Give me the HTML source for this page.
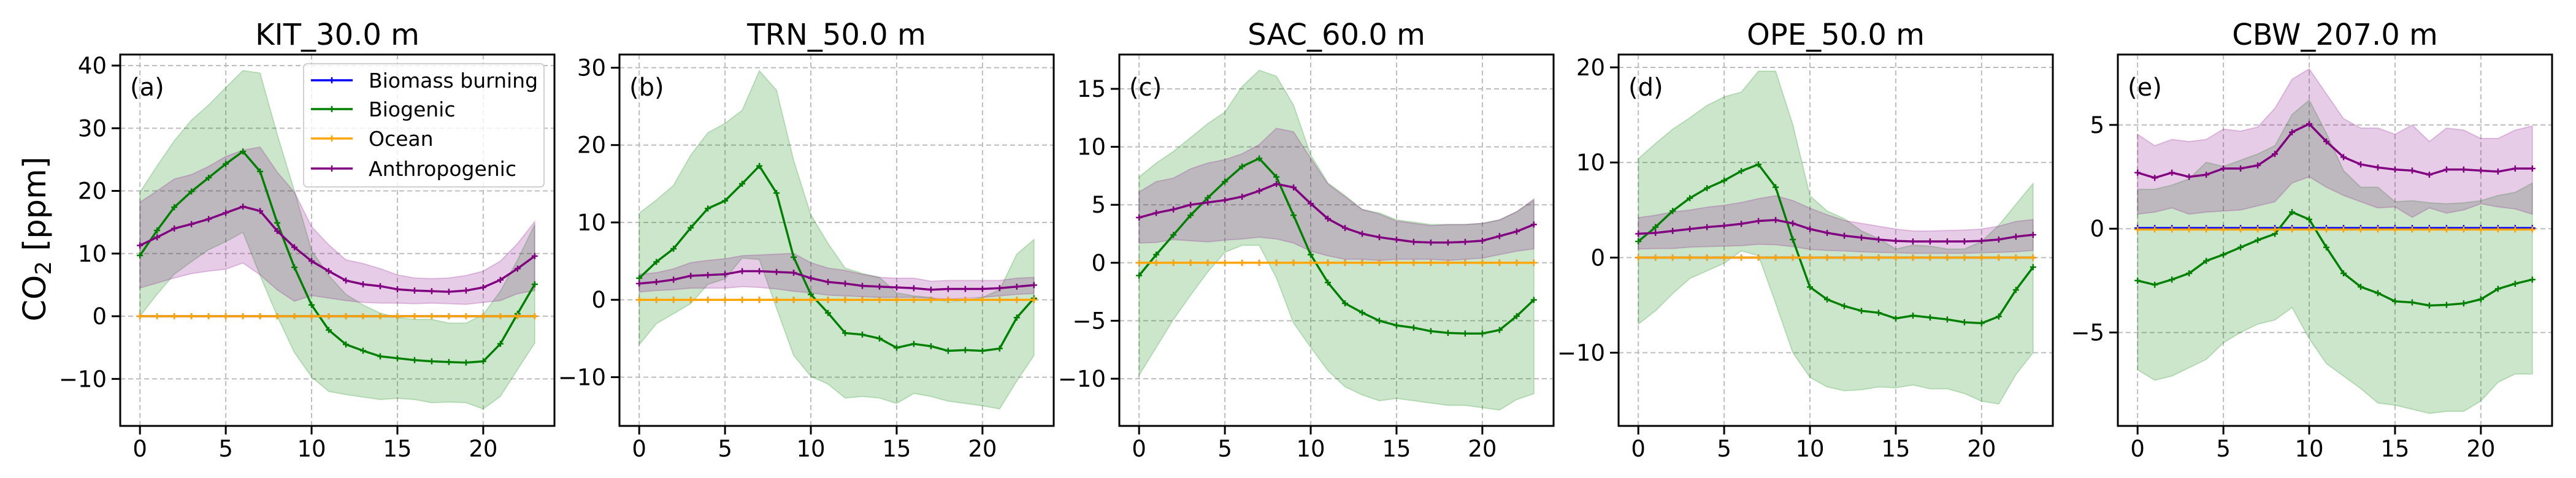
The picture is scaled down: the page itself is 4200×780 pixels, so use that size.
<!DOCTYPE html>
<html><head><meta charset="utf-8"><style>
html,body{margin:0;padding:0;background:#fff;}
svg{display:block;font-family:"DejaVu Sans","Liberation Sans",sans-serif;}
</style></head><body>
<svg id="fig" width="4200" height="780" viewBox="0 0 4200 780" xmlns="http://www.w3.org/2000/svg">
<rect width="4200" height="780" fill="#fff"/>
<text x="0" y="0" font-size="51" text-anchor="middle" transform="translate(74,390) rotate(-90)">CO<tspan font-size="36" dy="9">2</tspan><tspan dy="-9"> [ppm]</tspan></text>
</svg>
<script>
const hours = [0,1,2,3,4,5,6,7,8,9,10,11,12,13,14,15,16,17,18,19,20,21,22,23];
const titles = ["KIT_30.0 m","TRN_50.0 m","SAC_60.0 m","OPE_50.0 m","CBW_207.0 m"];
const panelLabels = ["(a)","(b)","(c)","(d)","(e)"];
const yTicks = [[-10,0,10,20,30,40],[-10,0,10,20,30],[-10,-5,0,5,10,15],[-10,0,10,20],[-5,0,5]];
const yMin = [-17.5,-16.3,-14.07,-17.7,-9.5];
const yMax = [41.76,31.7,17.96,21.35,8.39];
const xTicks = [0,5,10,15,20];

const bioMean = [
[9.7,13.7,17.4,19.9,22.1,24.3,26.3,23.1,14.9,7.8,1.8,-2.2,-4.5,-5.5,-6.4,-6.7,-7.0,-7.2,-7.3,-7.4,-7.2,-4.4,0.4,5.1],
[2.8,4.9,6.6,9.3,11.8,12.8,15,17.3,13.8,5.5,0.7,-1.7,-4.3,-4.5,-5,-6.2,-5.7,-6,-6.6,-6.5,-6.6,-6.3,-2.3,0.2],
[-1.1,0.7,2.4,4.1,5.6,7.0,8.3,9.0,7.4,4.1,0.7,-1.7,-3.5,-4.3,-5.0,-5.4,-5.6,-5.9,-6.05,-6.1,-6.1,-5.8,-4.6,-3.2],
[1.7,3.2,4.9,6.25,7.3,8.1,9.1,9.8,7.4,1.9,-3.1,-4.4,-5.1,-5.6,-5.8,-6.4,-6.1,-6.3,-6.5,-6.8,-6.9,-6.2,-3.4,-1.0],
[-2.5,-2.7,-2.45,-2.15,-1.55,-1.25,-0.9,-0.55,-0.25,0.8,0.45,-0.9,-2.15,-2.8,-3.1,-3.5,-3.55,-3.7,-3.67,-3.6,-3.4,-2.9,-2.65,-2.45]];
const bioUpper = [
[19.8,24,28,31.3,33.7,36.5,39.2,38.8,29,20,10.5,6.5,3.5,1.8,0.5,-0.2,-0.5,-0.5,-1.1,-1.1,0.3,4,9,14.6],
[11.2,12.9,14.8,18.7,21.6,22.8,24.5,29.6,27.1,18,11,7.3,4.1,3.4,2.9,0.9,0.5,0.3,-0.3,0.0,0.3,1.3,5.9,7.8],
[7.4,8.6,9.6,10.8,12,13,15.2,16.6,16.1,13.6,9.3,6.9,5.8,4.6,4.3,3.7,3.5,3.3,3.3,3.3,3.4,3.7,4.4,5.4],
[10.4,12.0,13.5,14.7,16.0,16.9,17.4,19.6,19.6,14.0,6.5,4.9,4.1,2.8,2.0,0.9,1.3,1.2,0.9,0.9,1.7,3.4,5.6,7.8],
[1.9,1.9,2.1,2.4,3.2,3.0,3.3,3.6,4.0,5.5,6.2,4.6,2.8,2.0,2.0,1.3,1.35,1.25,1.2,1.25,1.35,1.6,1.75,2.2]];
const bioLower = [
[0,3.5,6.7,8.7,10.6,11.9,13.4,6.5,0,-5.8,-9.7,-12,-12.5,-12.9,-13.3,-13.1,-13.3,-13.8,-13.7,-13.8,-14.8,-12.8,-8.5,-4.3],
[-5.8,-3.1,-1.8,-0.5,2,2.7,5.4,5.2,-1.1,-7.2,-9.9,-10.9,-12.7,-12.5,-12.7,-13.4,-12.1,-12.5,-13.1,-13.4,-13.7,-14.1,-10.5,-7.2],
[-9.7,-7.3,-4.9,-2.8,-0.8,0.9,1.5,1.5,-1.3,-5.2,-7.3,-9.3,-10.7,-11.4,-11.9,-11.7,-11.9,-12.1,-12.3,-12.3,-12.5,-12.7,-11.8,-11.3],
[-7.0,-5.6,-3.8,-2.2,-1.4,-0.6,0.7,0.2,-4.8,-10.0,-12.6,-13.6,-14.0,-13.9,-13.6,-13.7,-13.4,-13.8,-13.8,-14.3,-15.1,-15.4,-12.3,-10.0],
[-6.8,-7.3,-7.1,-6.7,-6.3,-5.5,-5.0,-4.6,-4.4,-3.8,-5.3,-6.5,-7.1,-7.7,-8.4,-8.5,-8.7,-8.9,-8.8,-8.8,-8.3,-7.4,-7.0,-7.0]];
const antMean = [
[11.3,12.6,14.0,14.7,15.5,16.5,17.5,16.8,13.6,11.0,8.8,7.2,5.7,5.1,4.8,4.3,4.1,4.0,3.9,4.1,4.6,5.8,7.6,9.6],
[2.1,2.3,2.6,3.1,3.2,3.3,3.7,3.7,3.6,3.5,2.8,2.3,2.1,1.8,1.7,1.6,1.5,1.3,1.4,1.4,1.4,1.5,1.7,1.9],
[3.9,4.3,4.6,5.0,5.2,5.4,5.7,6.2,6.8,6.5,5.1,3.8,3.0,2.5,2.2,2.0,1.8,1.75,1.75,1.8,1.9,2.3,2.7,3.3],
[2.5,2.6,2.8,3.0,3.2,3.35,3.55,3.85,3.95,3.6,3.0,2.6,2.3,2.1,1.9,1.75,1.7,1.7,1.7,1.7,1.75,1.9,2.2,2.4],
[2.7,2.45,2.7,2.5,2.6,2.9,2.9,3.05,3.6,4.65,5.05,4.2,3.45,3.1,2.95,2.85,2.8,2.6,2.85,2.85,2.8,2.75,2.9,2.9]];
const antUpper = [
[18.2,20,21.9,22.6,23.9,25.5,26.5,27,23,19.8,14.3,11.4,9,8.4,7.6,6.6,6.1,6,6.1,6.5,7.2,8.8,11.6,15.1],
[3.3,3.5,4,4.8,5.1,5.3,5.7,5.8,5.9,6,4.8,4.1,3.8,3.3,2.9,2.8,2.8,2.4,2.5,2.5,2.5,2.5,2.8,2.9],
[6.1,7.0,7.3,8.1,8.6,8.9,9.4,10.2,11.6,11.3,9.0,6.8,5.7,4.6,4.2,3.6,3.4,3.2,3.3,3.3,3.4,3.7,4.4,5.5],
[4.2,4.45,4.8,5.0,5.3,5.5,5.8,6.2,6.5,6.0,5.2,4.5,3.9,3.6,3.3,3.0,2.8,2.8,2.85,2.9,3.0,3.3,3.8,4.0],
[4.55,4.0,4.3,4.2,4.3,4.8,4.7,4.9,5.8,7.2,7.7,6.5,5.3,4.85,4.85,4.55,5.0,4.2,4.85,4.75,4.35,4.35,4.75,4.95]];
const antLower = [
[4.5,5.3,6.1,6.8,7.2,7.5,8.5,6.6,4.2,2.4,3.3,2.9,2.5,2.2,2.1,2.1,2.0,2.1,2.0,1.9,2.2,2.5,3.6,4.1],
[1.0,1.2,1.3,1.5,1.5,1.5,1.7,1.6,1.4,1.1,0.9,0.6,0.5,0.4,0.3,0.3,0.3,0.2,0.1,0.2,0.3,0.5,0.7,0.8],
[1.7,1.75,2.0,1.9,1.8,1.95,2.05,2.2,2.05,1.7,1.0,0.6,0.3,0.3,0.2,0.3,0.3,0.3,0.2,0.3,0.4,0.7,1.0,1.2],
[0.9,0.95,0.95,1.1,1.15,1.2,1.25,1.4,1.35,1.15,0.85,0.75,0.7,0.6,0.55,0.5,0.45,0.45,0.45,0.45,0.5,0.55,0.6,0.75],
[0.7,0.8,1.0,0.7,0.8,0.85,0.9,1.1,1.3,2.2,2.5,2.0,1.6,1.3,1.0,1.05,0.55,1.0,0.75,0.9,1.2,1.05,0.95,0.7]];
const bbMean = [0,0,0,0,0.03];
const oceanMean = [0,0,0,0,-0.04];

const NS = "http://www.w3.org/2000/svg";
const fig = document.getElementById("fig");
const lefts = [196,1010,1825,2639,3453];
const W = 708, TOP = 89, BOT = 695;
const XMIN = -1.15, XMAX = 24.15;

function mk(tag, attrs, parent) {
  const e = document.createElementNS(NS, tag);
  for (const k in attrs) e.setAttribute(k, attrs[k]);
  (parent || fig).appendChild(e);
  return e;
}
function fmt(v){ return v < 0 ? "\u2212" + Math.abs(v) : String(v); }

for (let p = 0; p < 5; p++) {
  const L = lefts[p], R = L + W;
  const sx = x => L + (x - XMIN) / (XMAX - XMIN) * W;
  const sy = y => BOT - (y - yMin[p]) / (yMax[p] - yMin[p]) * (BOT - TOP);
  const g = mk("g", {});
  
  
  const clipId = "clip" + p;
  const cp = mk("clipPath", {id: clipId}, g);
  mk("rect", {x: L, y: TOP, width: W, height: BOT - TOP}, cp);
  const plot = mk("g", {"clip-path": "url(#" + clipId + ")"}, g);
  xTicks.forEach(t => {
    const ln = mk("line", {x1: sx(t), x2: sx(t), y1: TOP, y2: BOT, stroke: "#bdbdbd", "stroke-width": 2, "stroke-dasharray": "8,5"}, plot);
    
    
  });
  yTicks[p].forEach(t => {
    const ln = mk("line", {x1: L, x2: R, y1: sy(t), y2: sy(t), stroke: "#bdbdbd", "stroke-width": 2, "stroke-dasharray": "8,5"}, plot);
    
    
  });
  function band(up, lo, col, name) {
    let d = "M" + hours.map((h, i) => sx(h) + "," + sy(up[i])).join("L");
    d += "L" + hours.slice().reverse().map(h => sx(h) + "," + sy(lo[h])).join("L") + "Z";
    const b = mk("path", {d: d, fill: col, "fill-opacity": 0.2, stroke: col, "stroke-opacity": 0.2, "stroke-width": 2}, plot);
    
    
  }
  band(bioUpper[p], bioLower[p], "#008000", "biogenic-range-band");
  band(antUpper[p], antLower[p], "#800080", "anthropogenic-range-band");
  function series(vals, col, name) {
    const d = "M" + hours.map((h, i) => sx(h) + "," + sy(vals[i])).join("L");
    const s = mk("path", {d: d, fill: "none", stroke: col, "stroke-width": 3.5, "stroke-linejoin": "round"}, plot);
    
    
    let md = "";
    hours.forEach((h, i) => { const x = sx(h), y = sy(vals[i]); md += "M" + (x - 5) + "," + y + "h10M" + x + "," + (y - 5) + "v10"; });
    const m = mk("path", {d: md, stroke: col, "stroke-width": 2.5, fill: "none"}, plot);
    
    
  }
  series(hours.map(() => bbMean[p]), "#0000ff", "biomass-burning-line");
  series(bioMean[p], "#008000", "biogenic-line");
  series(hours.map(() => oceanMean[p]), "#ffa500", "ocean-line");
  series(antMean[p], "#800080", "anthropogenic-line");
  const fr = mk("rect", {x: L, y: TOP, width: W, height: BOT - TOP, fill: "none", stroke: "#000", "stroke-width": 3}, g);
  
  
  xTicks.forEach(t => {
    mk("line", {x1: sx(t), x2: sx(t), y1: BOT, y2: BOT + 14, stroke: "#000", "stroke-width": 3}, g);
    const tx = mk("text", {x: sx(t), y: 745, "font-size": 37, "text-anchor": "middle"}, g);
    tx.textContent = fmt(t);
    
    
  });
  yTicks[p].forEach(t => {
    mk("line", {x1: L - 14, x2: L, y1: sy(t), y2: sy(t), stroke: "#000", "stroke-width": 3}, g);
    const tx = mk("text", {x: L - 22, y: sy(t) + 13, "font-size": 37, "text-anchor": "end"}, g);
    tx.textContent = fmt(t);
    
    
  });
  const ti = mk("text", {x: L + W / 2, y: 73, "font-size": 48, "text-anchor": "middle"}, g);
  ti.textContent = titles[p];
  
  
  const pl = mk("text", {x: L + 16, y: 156, "font-size": 40}, g);
  pl.textContent = panelLabels[p];
  
  
}

const leg = mk("g", {});


mk("rect", {x: 495, y: 104, width: 392, height: 201, rx: 6, fill: "#fff", "fill-opacity": 0.8, stroke: "#d0d0d0", "stroke-width": 2}, leg);
const legNames = ["Biomass burning","Biogenic","Ocean","Anthropogenic"];
const legCols = ["#0000ff","#008000","#ffa500","#800080"];
const legY = [131,178,226,275];
legNames.forEach((n, i) => {
  const e = mk("g", {}, leg);
  
  
  mk("line", {x1: 507, x2: 575, y1: legY[i], y2: legY[i], stroke: legCols[i], "stroke-width": 3.5}, e);
  mk("path", {d: "M536," + legY[i] + "h10M541," + (legY[i] - 5) + "v10", stroke: legCols[i], "stroke-width": 2.5}, e);
  const t = mk("text", {x: 601, y: legY[i] + 12, "font-size": 33}, e);
  t.textContent = n;
});
</script>
</body></html>
